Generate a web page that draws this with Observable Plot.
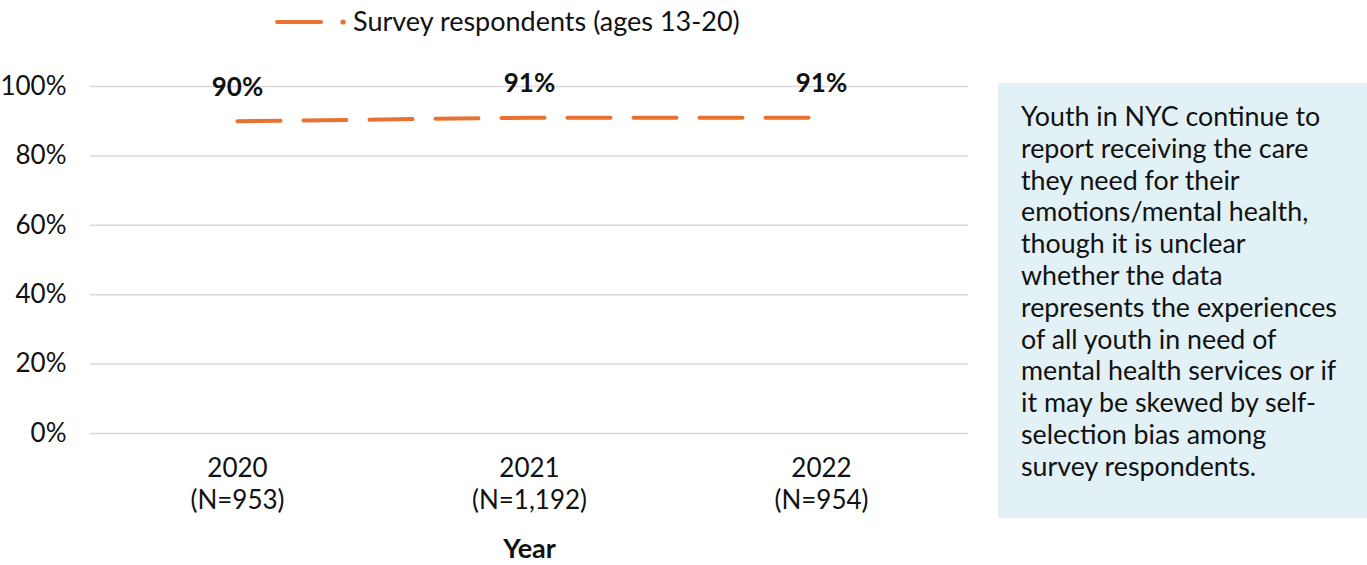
<!DOCTYPE html>
<html>
<head>
<meta charset="utf-8">
<script src="https://cdn.jsdelivr.net/npm/d3@7"></script>
<script src="https://cdn.jsdelivr.net/npm/@observablehq/plot@0.6"></script>
<style>
  html, body { margin: 0; padding: 0; background: #fff; }
  body { font-family: Lato, "Open Sans", sans-serif; }
  #wrap { position: relative; width: 1367px; height: 565px; overflow: hidden; }
  #legend { position: absolute; left: 272px; top: 4px; display: flex; align-items: center; font-size: 27px; color: #111; white-space: nowrap; }
  #note { position: absolute; left: 998px; top: 83px; width: 369px; height: 435px; background: #e2f1f6; box-sizing: border-box; padding: 18px 4px 0 23px; font-size: 26.8px; line-height: 31.8px; color: #111; white-space: nowrap; }
</style>
</head>
<body>
<div id="wrap">
  <div id="chart"></div>
  <div id="legend"></div>
  <div id="note"></div>
</div>
<script>
const years = ["2020", "2021", "2022"];
const sampleSizes = ["(N=953)", "(N=1,192)", "(N=954)"];
const values = [0.90, 0.91, 0.91];
const valueLabels = ["90%", "91%", "91%"];
const yTicks = [0, 0.2, 0.4, 0.6, 0.8, 1.0];
const seriesName = "Survey respondents (ages 13-20)";
const xTitle = "Year";
const noteLines = [
  "Youth in NYC continue to",
  "report receiving the care",
  "they need for their",
  "emotions/mental health,",
  "though it is unclear",
  "whether the data",
  "represents the experiences",
  "of all youth in need of",
  "mental health services or if",
  "it may be skewed by self-",
  "selection bias among",
  "survey respondents."
];
const orange = "#E97132";

const data = years.map((y, i) => ({year: y, value: values[i], label: valueLabels[i]}));

const chart = Plot.plot({
  width: 1367,
  height: 565,
  marginLeft: 90,
  marginRight: 399,
  marginTop: 86,
  marginBottom: 132,
  style: {fontFamily: "Lato, 'Open Sans', sans-serif", color: "#111", background: "transparent"},
  x: {type: "point", domain: years, padding: 0.5, label: null},
  y: {domain: [0, 1], label: null},
  marks: [
    Plot.gridY(yTicks, {stroke: "#d9d9d9", strokeOpacity: 1, strokeWidth: 1.5}),
    Plot.axisY(yTicks, {tickSize: 0, tickPadding: 24, tickFormat: d => Math.round(d * 100) + "%", fontSize: 26, label: null}),
    Plot.axisX({tickSize: 0, tickPadding: 21, fontSize: 26, lineHeight: 1.23, tickFormat: (d) => d + "\n" + sampleSizes[years.indexOf(d)], label: null}),
    Plot.line(data, {x: "year", y: "value", stroke: orange, strokeWidth: 4, strokeDasharray: "43 23", strokeLinecap: "round"}),
    Plot.text(data, {x: "year", y: "value", text: "label", dy: -34, fontSize: 26, fontWeight: "bold", fill: "#111"}),
    Plot.text([xTitle], {frameAnchor: "bottom", x: () => years[1], dy: 124, fontSize: 27, fontWeight: "bold", fill: "#111"})
  ]
});
document.getElementById("chart").appendChild(chart);

document.getElementById("legend").innerHTML =
  `<svg width="80" height="30" style="display:block"><line x1="5" y1="16" x2="49" y2="16" stroke="${orange}" stroke-width="4" stroke-linecap="round"/><circle cx="71" cy="16" r="2.6" fill="${orange}"/></svg><span style="margin-left:1px">${seriesName}</span>`;
document.getElementById("note").innerHTML = noteLines.map(l => `<div>${l}</div>`).join("");
</script>
</body>
</html>
